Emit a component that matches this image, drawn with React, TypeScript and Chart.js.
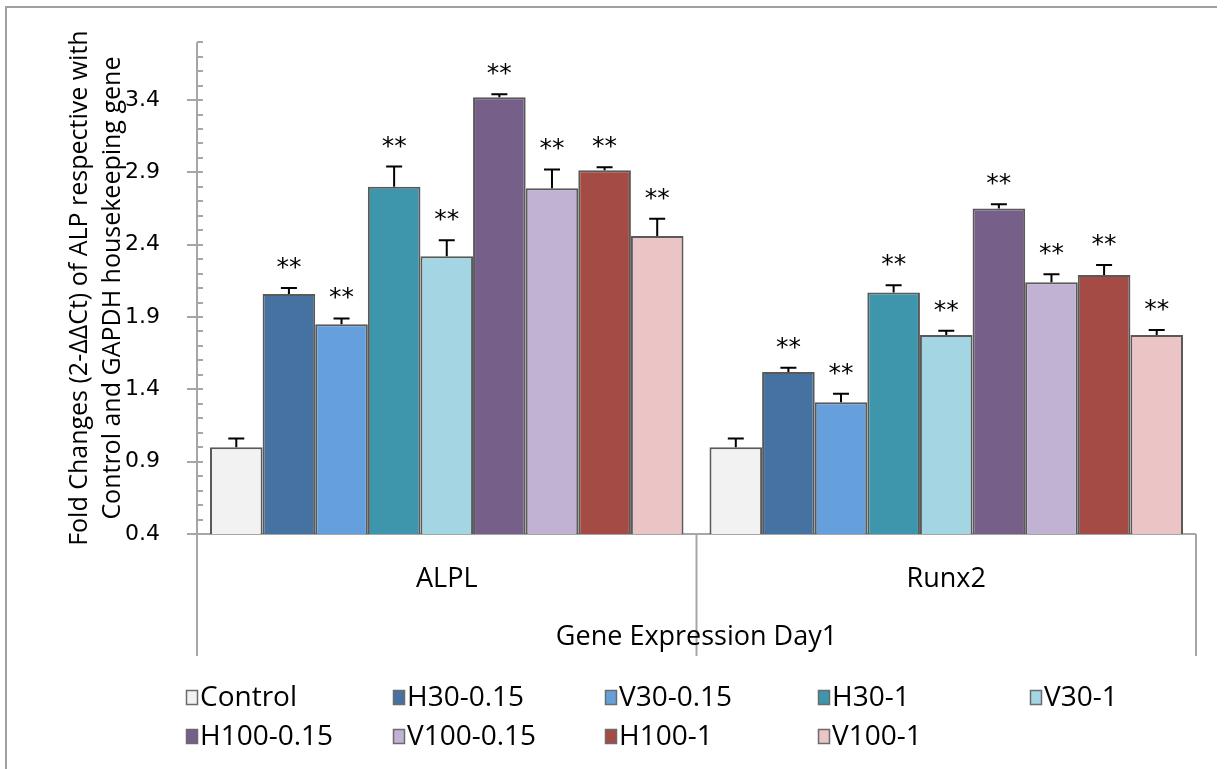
import React, { useEffect, useRef } from 'react';
import { Chart, registerables } from 'chart.js';

Chart.register(...registerables);

// ---- data ----
const categories = ['ALPL', 'Runx2'];
const seriesNames = ['Control', 'H30-0.15', 'V30-0.15', 'H30-1', 'V30-1', 'H100-0.15', 'V100-0.15', 'H100-1', 'V100-1'];
const seriesColors = ['#f2f2f2', '#4572a0', '#65a0dc', '#3d96ab', '#a3d5e3', '#76608a', '#c1b2d3', '#a54b45', '#ebc5c5'];

const controlVals = [1.0, 1.0];
const h30_015Vals = [2.06, 1.52];
const v30_015Vals = [1.85, 1.31];
const h30_1Vals = [2.8, 2.07];
const v30_1Vals = [2.32, 1.775];
const h100_015Vals = [3.42, 2.65];
const v100_015Vals = [2.79, 2.14];
const h100_1Vals = [2.915, 2.19];
const v100_1Vals = [2.46, 1.775];

const controlErr = [0.06, 0.06];
const h30_015Err = [0.04, 0.03];
const v30_015Err = [0.04, 0.06];
const h30_1Err = [0.14, 0.05];
const v30_1Err = [0.11, 0.03];
const h100_015Err = [0.02, 0.03];
const v100_015Err = [0.13, 0.055];
const h100_1Err = [0.02, 0.07];
const v100_1Err = [0.12, 0.035];

const significance = ['', '**', '**', '**', '**', '**', '**', '**', '**'];

const yTickLabels = ['0.4', '0.9', '1.4', '1.9', '2.4', '2.9', '3.4'];
const yMin = 0.4;
const yMax = 3.8;
const yMinorStep = 0.1;

const yTitleLines = ['Fold Changes (2-\u0394\u0394Ct) of ALP respective with', 'Control and GAPDH housekeeping gene'];
const xTitle = 'Gene Expression Day1';

const allVals = [controlVals, h30_015Vals, v30_015Vals, h30_1Vals, v30_1Vals, h100_015Vals, v100_015Vals, h100_1Vals, v100_1Vals];
const allErr = [controlErr, h30_015Err, v30_015Err, h30_1Err, v30_1Err, h100_015Err, v100_015Err, h100_1Err, v100_1Err];

const AXIS_COLOR = '#a6a6a6';
const TEXT_FONT = '"Open Sans", sans-serif';

const decorPlugin = {
  id: 'decor',
  beforeDraw(chart: any) {
    const ctx = chart.ctx;
    ctx.save();
    ctx.strokeStyle = '#a0a0a0';
    ctx.lineWidth = 2;
    ctx.beginPath();
    ctx.moveTo(6, 769);
    ctx.lineTo(6, 7);
    ctx.lineTo(1217, 7);
    ctx.stroke();
    ctx.restore();
  },
  beforeDatasetsDraw(chart: any) {
    const ctx = chart.ctx;
    const { left, right, top, bottom } = chart.chartArea;
    const y = chart.scales.y;
    const x = chart.scales.x;
    ctx.save();
    ctx.strokeStyle = AXIS_COLOR;
    ctx.lineWidth = 2;
    ctx.beginPath();
    ctx.moveTo(left, top);
    ctx.lineTo(left, bottom);
    ctx.stroke();
    const n = Math.round((yMax - yMin) / yMinorStep);
    for (let k = 0; k <= n; k++) {
      const v = yMin + k * yMinorStep;
      const py = Math.round(y.getPixelForValue(v));
      const major = k % 5 === 0;
      ctx.beginPath();
      ctx.moveTo(major ? left - 10 : left, py);
      ctx.lineTo(left + 6, py);
      ctx.stroke();
    }
    ctx.beginPath();
    ctx.moveTo(left - 10, bottom);
    ctx.lineTo(right, bottom);
    ctx.stroke();
    const w = x.getPixelForValue(1) - x.getPixelForValue(0);
    for (let i = 0; i <= categories.length; i++) {
      const px = x.getPixelForValue(0) - w / 2 + i * w;
      ctx.beginPath();
      ctx.moveTo(px, bottom);
      ctx.lineTo(px, 656);
      ctx.stroke();
    }
    ctx.restore();
  },
  afterDatasetsDraw(chart: any) {
    const ctx = chart.ctx;
    const y = chart.scales.y;
    ctx.save();
    chart.data.datasets.forEach((ds: any, i: number) => {
      const meta = chart.getDatasetMeta(i);
      meta.data.forEach((el: any, j: number) => {
        const val = ds.data[j];
        const err = allErr[i][j];
        const top = y.getPixelForValue(val + err);
        ctx.strokeStyle = '#000';
        ctx.lineWidth = 2;
        ctx.beginPath();
        ctx.moveTo(el.x, el.y);
        ctx.lineTo(el.x, top);
        ctx.moveTo(el.x - 8, top);
        ctx.lineTo(el.x + 8, top);
        ctx.stroke();
        if (significance[i]) {
          ctx.fillStyle = '#000';
          ctx.font = '25px "DejaVu Sans", sans-serif';
          ctx.textAlign = 'center';
          ctx.textBaseline = 'alphabetic';
          ctx.fillText(significance[i], el.x, top - 13);
        }
      });
    });
    ctx.restore();
  },
  afterDraw(chart: any) {
    const ctx = chart.ctx;
    const { top, bottom, left, right } = chart.chartArea;
    ctx.save();
    ctx.fillStyle = '#000';
    ctx.font = '25px ' + TEXT_FONT;
    ctx.textAlign = 'center';
    ctx.textBaseline = 'middle';
    const cy = (top + bottom) / 2;
    const xs = [80, 113];
    yTitleLines.forEach((line, i) => {
      ctx.save();
      ctx.translate(xs[i], cy);
      ctx.rotate(-Math.PI / 2);
      ctx.fillText(line, 0, 0);
      ctx.restore();
    });
    ctx.font = '27px ' + TEXT_FONT;
    ctx.fillText(xTitle, (left + right) / 2, 637);
    ctx.font = '28px ' + TEXT_FONT;
    ctx.textAlign = 'left';
    const colX = [186, 393, 605, 818, 1030];
    const rowY = [698, 737];
    seriesNames.forEach((name, i) => {
      const bx = colX[i % 5];
      const by = rowY[Math.floor(i / 5)];
      ctx.fillStyle = seriesColors[i];
      ctx.fillRect(bx, by - 8, 12, 15);
      ctx.strokeStyle = '#6b6b6b';
      ctx.lineWidth = 1.5;
      ctx.strokeRect(bx + 0.5, by - 7.5, 11, 14);
      ctx.fillStyle = '#000';
      ctx.fillText(name, bx + 14, by);
    });
    ctx.restore();
  },
};

export default function App() {
  const ref = useRef<HTMLCanvasElement | null>(null);
  useEffect(() => {
    if (!ref.current) return;
    const chart = new Chart(ref.current, {
      type: 'bar',
      data: {
        labels: categories,
        datasets: seriesNames.map((name, i) => ({
          label: name,
          data: allVals[i],
          backgroundColor: seriesColors[i],
          borderColor: '#595959',
          borderWidth: 2,
          barPercentage: 1.0,
          categoryPercentage: 0.948,
        })),
      },
      options: {
        animation: false,
        responsive: false,
        layout: { padding: { left: 0, top: 42, right: 30, bottom: 0 } },
        plugins: {
          legend: { display: false },
          tooltip: { enabled: false },
          title: { display: false },
        },
        scales: {
          x: {
            type: 'category',
            offset: true,
            grid: { display: false },
            border: { display: false },
            ticks: {
              color: '#000',
              font: { family: TEXT_FONT, size: 27 },
              padding: 21,
              maxRotation: 0,
            },
            afterFit: (s: any) => {
              s.height = 235;
            },
          },
          y: {
            min: yMin,
            max: yMax,
            grid: { display: false },
            border: { display: false },
            afterBuildTicks: (s: any) => {
              s.ticks = yTickLabels.map((t) => ({ value: parseFloat(t) }));
            },
            ticks: {
              autoSkip: false,
              color: '#000',
              font: { family: '"DejaVu Sans", sans-serif', size: 22 },
              padding: 29,
              callback: (v: any) => Number(v).toFixed(1),
            },
            afterFit: (s: any) => {
              s.width = 197;
            },
          },
        },
      },
      plugins: [decorPlugin],
    } as any);
    return () => chart.destroy();
  }, []);
  return (
    <div style={{ position: 'absolute', left: 0, top: 0, width: 1226, height: 769, background: '#fff' }}>
      <canvas ref={ref} width={1226} height={769} style={{ width: 1226, height: 769, display: 'block' }} />
    </div>
  );
}
